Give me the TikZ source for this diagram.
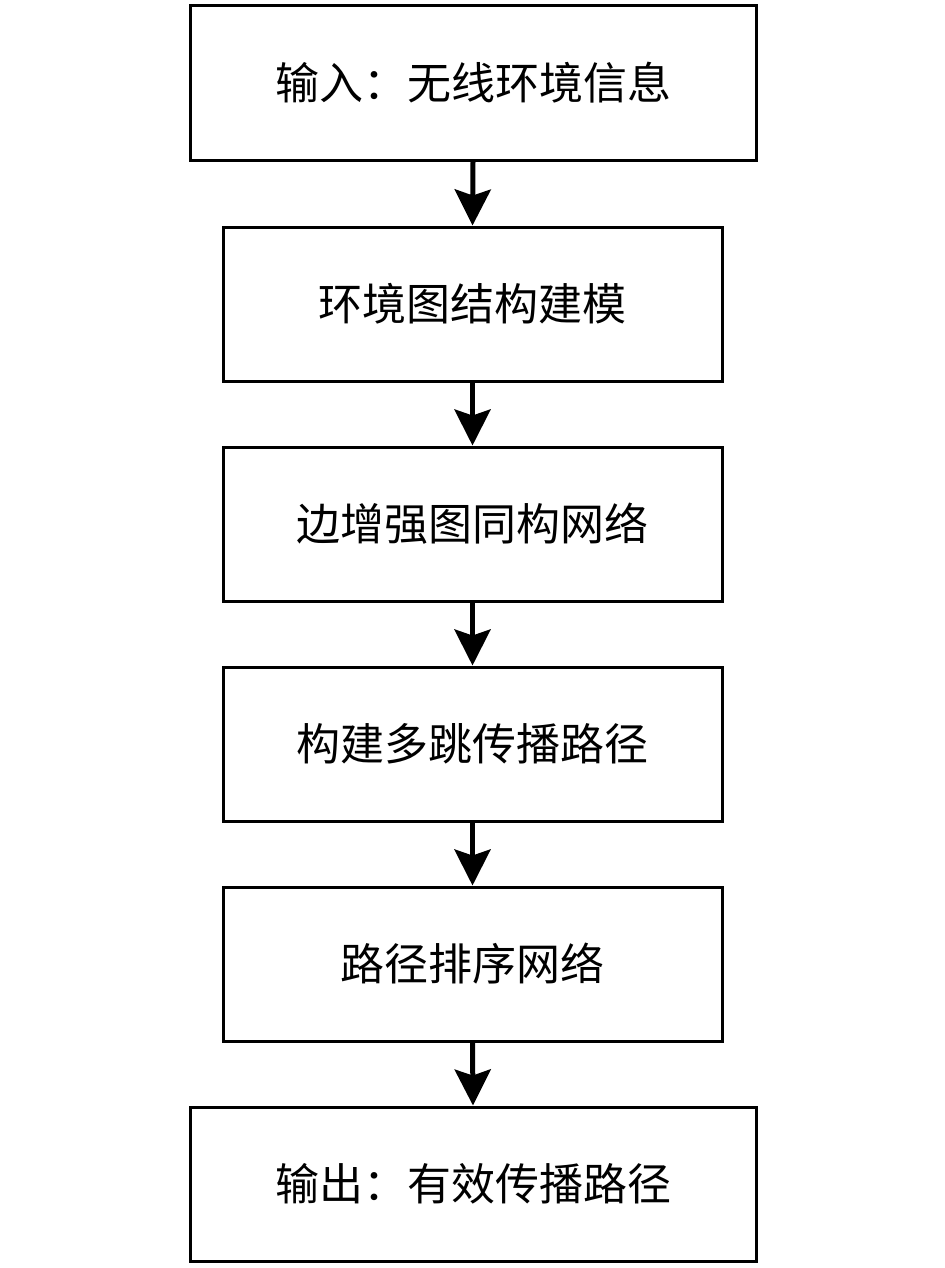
\documentclass[tikz,border=0pt]{standalone}
\usepackage{fontspec}
\newfontfamily\cjk{Noto Sans CJK SC}
\usetikzlibrary{arrows.meta}
\begin{document}
\begin{tikzpicture}[x=0.5pt,y=-0.5pt,
  flowbox/.style={draw=black,line width=1.5pt,minimum height=77pt,inner sep=0pt,font=\cjk\fontsize{22pt}{26pt}\selectfont},
  widebox/.style={flowbox,minimum width=283pt},
  narrowbox/.style={flowbox,minimum width=249.5pt},
  flowarrow/.style={line width=2.5pt,-{Stealth[length=18pt,width=18pt,inset=3pt]}}]
\useasboundingbox (0,0) rectangle (945,1268);
\node[widebox] (n1) at (473,83) {输入：无线环境信息};
\node[narrowbox] (n2) at (472.5,304) {环境图结构建模};
\node[narrowbox] (n3) at (472.5,524) {边增强图同构网络};
\node[narrowbox] (n4) at (472.5,744) {构建多跳传播路径};
\node[narrowbox] (n5) at (472.5,964) {路径排序网络};
\node[widebox] (n6) at (473,1184) {输出：有效传播路径};
\draw[flowarrow] (n1.south) -- (n2.north);
\draw[flowarrow] (n2.south) -- (n3.north);
\draw[flowarrow] (n3.south) -- (n4.north);
\draw[flowarrow] (n4.south) -- (n5.north);
\draw[flowarrow] (n5.south) -- (n6.north);
\end{tikzpicture}
\end{document}
